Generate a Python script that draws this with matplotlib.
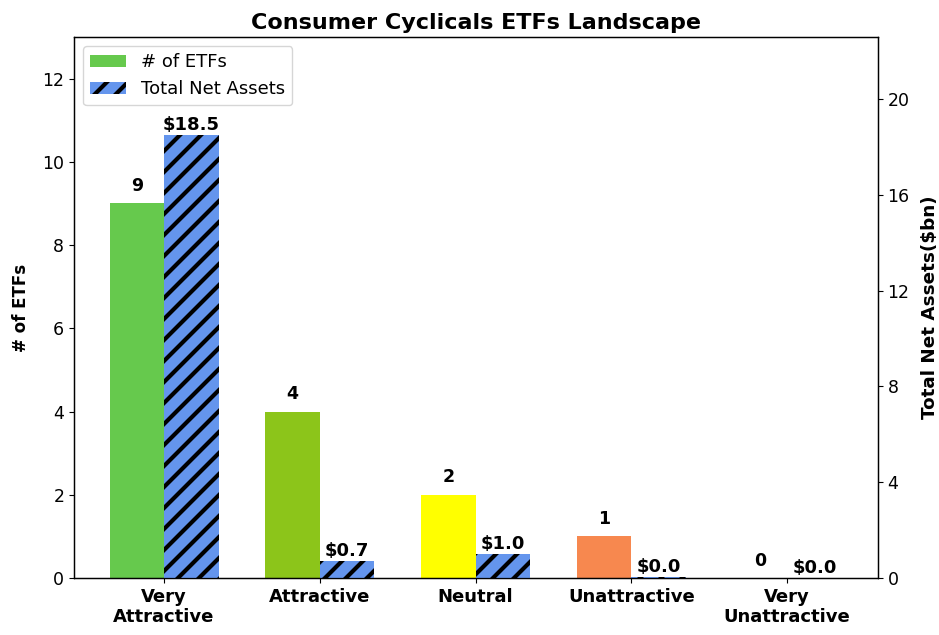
import matplotlib
matplotlib.use("Agg")
import matplotlib.pyplot as plt
import numpy as np

categories = ["Very\nAttractive", "Attractive", "Neutral", "Unattractive", "Very\nUnattractive"]
num_etfs = [9, 4, 2, 1, 0]
net_assets = [18.5, 0.7, 1.0, 0.04, 0.0]
net_labels = ["$18.5", "$0.7", "$1.0", "$0.0", "$0.0"]
bar_colors = ["#66c94d", "#8cc51a", "#ffff00", "#f7884f", "#e8463b"]

# render at a higher dpi (so the hatch tile is larger) while keeping pixel sizes
D = 126
k = 100.0 / D
plt.rcParams.update({
    'hatch.linewidth': 3.0 * k,
    'axes.linewidth': 0.9 * k,
    'patch.linewidth': 1.0 * k,
    'xtick.major.size': 3.5 * k, 'ytick.major.size': 3.5 * k,
    'xtick.major.width': 0.8 * k, 'ytick.major.width': 0.8 * k,
    'xtick.major.pad': 3.5 * k, 'ytick.major.pad': 3.5 * k,
    'axes.titlepad': 6 * k,
    'font.size': 10 * k,
})

fig = plt.figure(figsize=(939 / D, 635 / D), dpi=D)
ax = fig.add_axes([0.0788, 0.0898, 0.856, 0.852])
ax2 = ax.twinx()

x = np.arange(len(categories))
w = 0.35
b1 = ax.bar(x - w/2, num_etfs, w, color=bar_colors, label="# of ETFs")
b2 = ax2.bar(x + w/2, net_assets, w, color="#6495ed", edgecolor="black", linewidth=0,
             hatch="//", label="Total Net Assets")

ax.set_xlim(-0.578, 4.582)
ax.set_ylim(0, 13)
ax2.set_ylim(0, 22.6)
ax2.set_yticks([0, 4, 8, 12, 16, 20])
ax.set_yticks([0, 2, 4, 6, 8, 10, 12])
ax.set_xticks(x)
ax.set_xticklabels(categories, fontweight="bold", fontsize=13 * k)
ax.tick_params(axis='y', labelsize=12.5 * k)
ax2.tick_params(axis='y', labelsize=12.5 * k)

ax.set_ylabel("# of ETFs", fontweight="bold", fontsize=12 * k, labelpad=9 * k)
ax2.set_ylabel("Total Net Assets($bn)", fontweight="bold", fontsize=13.2 * k, labelpad=8 * k)
ax.set_title("Consumer Cyclicals ETFs Landscape", fontweight="bold", fontsize=16 * k)

for xi, v in zip(x, num_etfs):
    ax.annotate(str(v), (xi - w/2, v), xytext=(0, 6 * k), textcoords="offset points",
                ha="center", va="bottom", fontweight="bold", fontsize=12.5 * k)
for xi, v, lab in zip(x, net_assets, net_labels):
    ax2.annotate(lab, (xi + w/2, v), xytext=(0, 1 * k), textcoords="offset points",
                 ha="center", va="bottom", fontweight="bold", fontsize=13 * k)

leg = ax.legend([b1[0], b2[0]], ["# of ETFs", "Total Net Assets"], loc="upper left",
                fontsize=13 * k)

fig.savefig("out.png", dpi=D)
